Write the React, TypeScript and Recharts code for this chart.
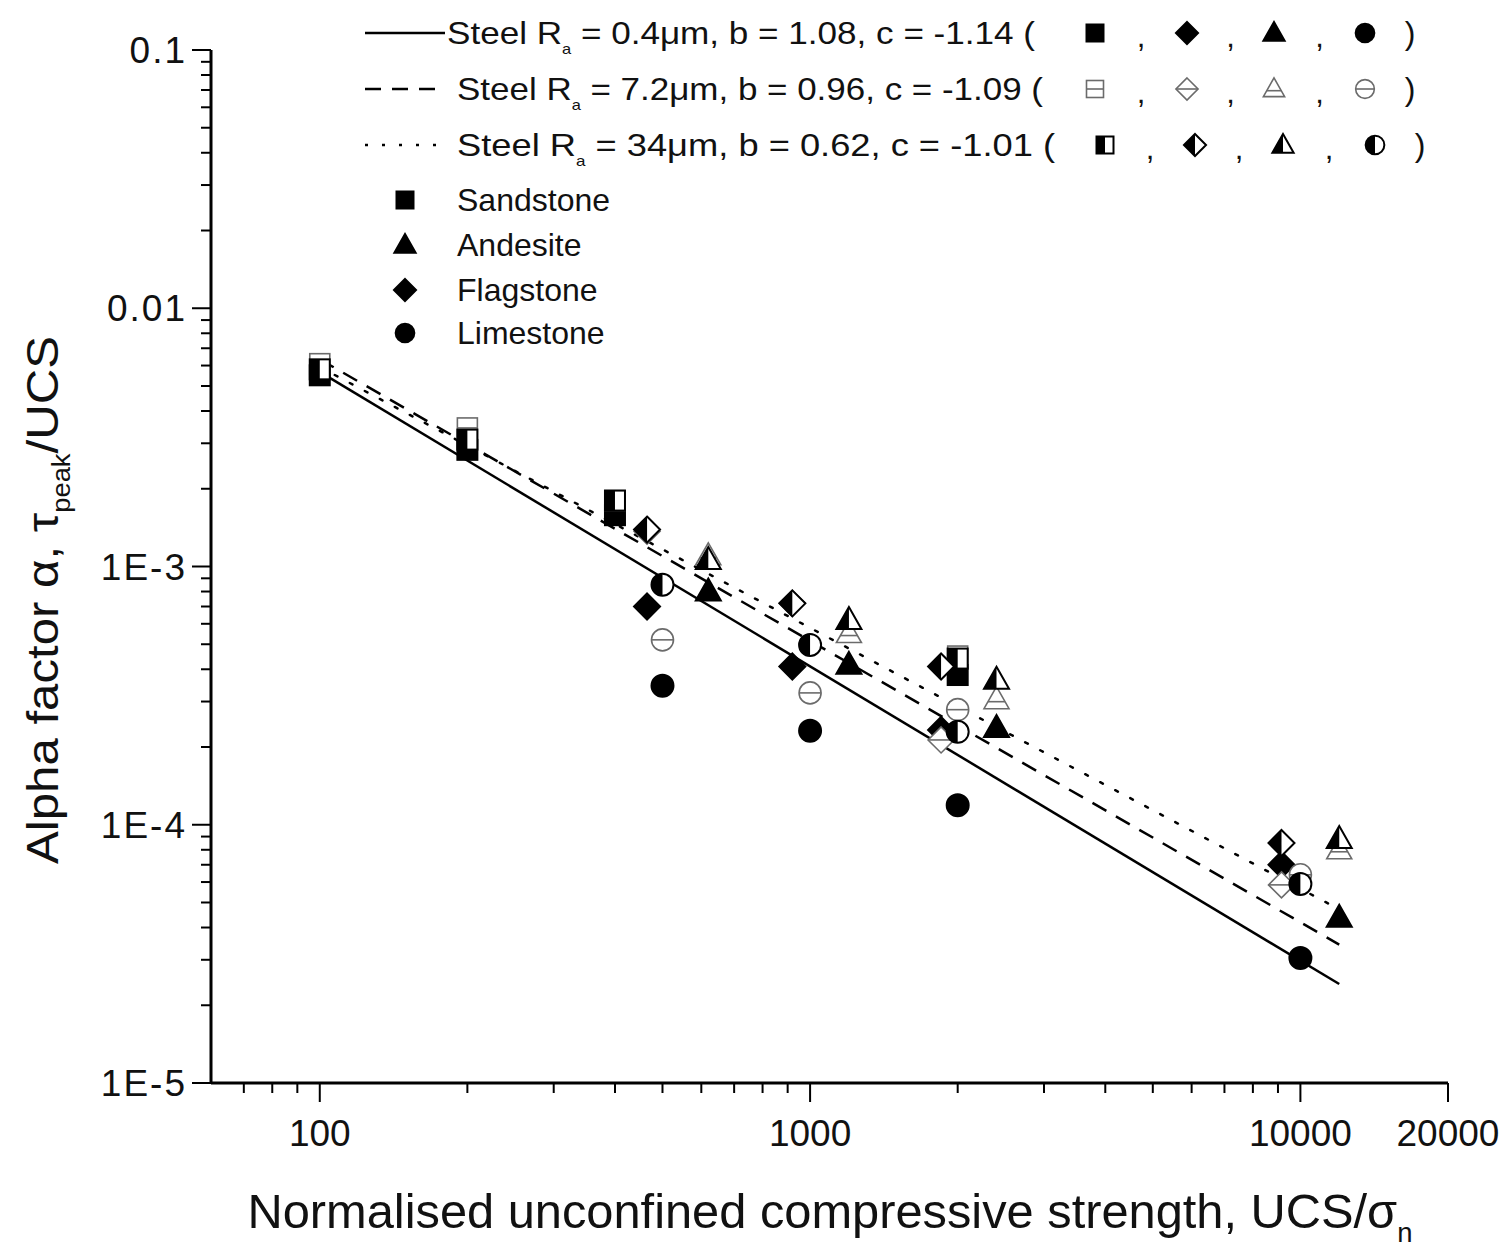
import { ScatterChart, Scatter, XAxis, YAxis } from 'recharts'

const W = 1512
const H = 1257
const FONT = '"Liberation Sans", Arial, Helvetica, sans-serif'

// axis ticks
const X_MAJOR = [100, 1000, 10000, 20000]
const X_MINOR = [70, 80, 90, 200, 300, 400, 500, 600, 700, 800, 900, 2000, 3000, 4000, 5000, 6000, 7000, 8000, 9000]
const Y_MAJOR = [1e-5, 1e-4, 1e-3, 0.01, 0.1]
const Y_MAJOR_LABELS = ['1E-5', '1E-4', '1E-3', '0.01', '0.1']
const Y_MINOR = [1e-5, 1e-4, 1e-3, 1e-2].flatMap((d) => [2, 3, 4, 5, 6, 7, 8, 9].map((m) => m * d))

// power-law fits alpha = b * x^c for the three steel roughnesses
const FIT_RA = ['0.4', '7.2', '34']
const FIT_B = [1.08, 0.96, 0.62]
const FIT_C = [-1.14, -1.09, -1.01]
const FIT_X = [100, 12000]

// measured points: x values per rock, then alpha for Ra = 0.4, 7.2, 34 um
const SANDSTONE_X = [100, 200, 400, 2000]
const SANDSTONE_04 = [0.0055, 0.00283, 0.00158, 0.00038]
const SANDSTONE_72 = [0.0061, 0.00344, 0.0018, 0.00045]
const SANDSTONE_34 = [0.0058, 0.0031, 0.0018, 0.00044]

const FLAGSTONE_X = [465, 920, 1850, 9150]
const FLAGSTONE_04 = [0.0007, 0.00041, 0.000233, 7.0e-5]
const FLAGSTONE_72 = [0.00137, 0.00072, 0.000213, 5.85e-5]
const FLAGSTONE_34 = [0.00139, 0.00072, 0.00041, 8.5e-5]

const ANDESITE_X = [620, 1200, 2400, 12000]
const ANDESITE_04 = [0.0008, 0.000416, 0.000237, 4.36e-5]
const ANDESITE_72 = [0.0011, 0.00055, 0.000305, 8.0e-5]
const ANDESITE_34 = [0.00106, 0.00062, 0.000364, 8.8e-5]

const LIMESTONE_X = [500, 1000, 2000, 10000]
const LIMESTONE_04 = [0.000345, 0.000231, 0.000119, 3.05e-5]
const LIMESTONE_72 = [0.00052, 0.000324, 0.000279, 6.4e-5]
const LIMESTONE_34 = [0.00085, 0.000497, 0.000229, 5.9e-5]

type Kind = 'square' | 'diamond' | 'triangle' | 'circle'
type Style = 'filled' | 'open' | 'half'

const LINE_DASH = ['', '16 11', '3 14']

const toPoints = (xs: number[], ys: number[]) => xs.map((x, i) => ({ x, y: ys[i] }))

const fitPoints = (i: number) => FIT_X.map((x) => ({ x, y: FIT_B[i] * Math.pow(x, FIT_C[i]) }))

function Marker({ kind, style, cx, cy, s = 1 }: { kind: Kind; style: Style; cx: number; cy: number; s?: number }) {
  const black = '#000'
  const gray = '#6b6b6b'
  const outline = style === 'open' ? gray : black
  const sw = style === 'open' ? 1.6 : 2
  const body = style === 'filled' ? black : '#fff'

  if (kind === 'square') {
    const h = 10 * s
    return (
      <g>
        <rect x={cx - h} y={cy - h} width={2 * h} height={2 * h} fill={body} stroke={outline} strokeWidth={sw} />
        {style === 'half' && <rect x={cx - h} y={cy - h} width={h} height={2 * h} fill={black} />}
        {style === 'open' && <line x1={cx - h} x2={cx + h} y1={cy} y2={cy} stroke={gray} strokeWidth={1.6} />}
      </g>
    )
  }
  if (kind === 'diamond') {
    const h = 13 * s
    const pts = `${cx},${cy - h} ${cx + h},${cy} ${cx},${cy + h} ${cx - h},${cy}`
    return (
      <g>
        <polygon points={pts} fill={body} stroke={outline} strokeWidth={sw} />
        {style === 'half' && <polygon points={`${cx},${cy - h} ${cx - h},${cy} ${cx},${cy + h}`} fill={black} />}
        {style === 'open' && <line x1={cx - h} x2={cx + h} y1={cy} y2={cy} stroke={gray} strokeWidth={1.6} />}
      </g>
    )
  }
  if (kind === 'triangle') {
    const hw = 12.5 * s
    const top = cy - 13 * s
    const bot = cy + 9 * s
    const pts = `${cx},${top} ${cx + hw},${bot} ${cx - hw},${bot}`
    const ly = cy + 2 * s
    const lx = hw * ((ly - top) / (bot - top))
    return (
      <g>
        <polygon points={pts} fill={body} stroke={outline} strokeWidth={sw} strokeLinejoin="miter" />
        {style === 'half' && <polygon points={`${cx},${top} ${cx - hw},${bot} ${cx},${bot}`} fill={black} />}
        {style === 'open' && <line x1={cx - lx} x2={cx + lx} y1={ly} y2={ly} stroke={gray} strokeWidth={1.6} />}
      </g>
    )
  }
  const r = 11 * s
  return (
    <g>
      <circle cx={cx} cy={cy} r={r} fill={body} stroke={outline} strokeWidth={sw} />
      {style === 'half' && <path d={`M${cx},${cy - r} A${r},${r} 0 0 0 ${cx},${cy + r} Z`} fill={black} />}
      {style === 'open' && <line x1={cx - r} x2={cx + r} y1={cy} y2={cy} stroke={gray} strokeWidth={1.6} />}
    </g>
  )
}

const markerShape = (kind: Kind, style: Style) => (props: any) =>
  props.cx == null ? <g /> : <Marker kind={kind} style={style} cx={props.cx} cy={props.cy} />

const XTick = (props: any) => {
  const { x, y, payload } = props
  const major = X_MAJOR.includes(payload.value)
  return (
    <g>
      <line x1={x} x2={x} y1={y} y2={y + (major ? 19 : 10)} stroke="#000" strokeWidth={2} />
      {major && (
        <text x={x} y={y + 63} textAnchor="middle" fontSize={37} fontFamily={FONT} fill="#111">
          {payload.value}
        </text>
      )}
    </g>
  )
}

const YTick = (props: any) => {
  const { x, y, payload } = props
  const idx = Y_MAJOR.findIndex((v) => Math.abs(v - payload.value) / v < 1e-6)
  const major = idx >= 0
  return (
    <g>
      <line x1={x - (major ? 19 : 10)} x2={x} y1={y} y2={y} stroke="#000" strokeWidth={2} />
      {major && (
        <text x={x - 24} y={y + 13} textAnchor="end" fontSize={37} letterSpacing={2} fontFamily={FONT} fill="#111">
          {Y_MAJOR_LABELS[idx]}
        </text>
      )}
    </g>
  )
}

const ROCKS: { kind: Kind; name: string; xs: number[]; ys: number[][] }[] = [
  { kind: 'square', name: 'Sandstone', xs: SANDSTONE_X, ys: [SANDSTONE_04, SANDSTONE_72, SANDSTONE_34] },
  { kind: 'diamond', name: 'Flagstone', xs: FLAGSTONE_X, ys: [FLAGSTONE_04, FLAGSTONE_72, FLAGSTONE_34] },
  { kind: 'triangle', name: 'Andesite', xs: ANDESITE_X, ys: [ANDESITE_04, ANDESITE_72, ANDESITE_34] },
  { kind: 'circle', name: 'Limestone', xs: LIMESTONE_X, ys: [LIMESTONE_04, LIMESTONE_72, LIMESTONE_34] },
]
const STYLES: Style[] = ['filled', 'open', 'half']

// header legend layout
const ROW_Y = [33, 89, 145]
const ROW_TEXT_X = [447, 457, 457]
const ROW_TEXT_W = [588, 586, 598]
const ROW_TAIL = [
  ' = 0.4\u03bcm, b = 1.08, c = -1.14  (',
  ' = 7.2\u03bcm, b = 0.96, c = -1.09 (',
  ' = 34\u03bcm,  b = 0.62, c = -1.01  (',
]
const ROW_MARK_X = [
  [1095, 1187, 1274, 1365],
  [1095, 1187, 1274, 1365],
  [1105, 1195, 1283, 1375],
]
const LEGEND_KINDS: Kind[] = ['square', 'diamond', 'triangle', 'circle']
const ROCK_LEGEND = ['Sandstone', 'Andesite', 'Flagstone', 'Limestone']
const ROCK_LEGEND_KIND: Kind[] = ['square', 'triangle', 'diamond', 'circle']
const ROCK_LEGEND_Y = [200, 245, 290, 333]

function Overlay() {
  return (
    <svg width={W} height={H} style={{ position: 'absolute', left: 0, top: 0, pointerEvents: 'none' }}>
      {ROW_Y.map((y, i) => {
        const mx = ROW_MARK_X[i]
        return (
          <g key={i} fontFamily={FONT} fill="#111">
            <line x1={365} x2={i === 0 ? 445 : 440} y1={y} y2={y} stroke="#000" strokeWidth={2.5} strokeDasharray={LINE_DASH[i] || undefined} />
            <text x={ROW_TEXT_X[i]} y={y + 11} fontSize={32} textLength={ROW_TEXT_W[i]} lengthAdjust="spacingAndGlyphs">
              Steel R
              <tspan dy={10} fontSize={15}>a</tspan>
              <tspan dy={-10}>{ROW_TAIL[i]}</tspan>
            </text>
            {LEGEND_KINDS.map((k, j) => (
              <Marker key={k} kind={k} style={STYLES[i]} cx={mx[j]} cy={y} s={0.85} />
            ))}
            {[0, 1, 2].map((j) => (
              <text key={j} x={(mx[j] + mx[j + 1]) / 2} y={y + 14} fontSize={31} textAnchor="middle">,</text>
            ))}
            <text x={mx[3] + 45} y={y + 11} fontSize={32} textAnchor="middle">)</text>
          </g>
        )
      })}
      {ROCK_LEGEND.map((name, i) => (
        <g key={name}>
          <Marker kind={ROCK_LEGEND_KIND[i]} style="filled" cx={405} cy={ROCK_LEGEND_Y[i]} s={0.85} />
          <text x={457} y={ROCK_LEGEND_Y[i] + 11} fontSize={32} fontFamily={FONT} fill="#111">{name}</text>
        </g>
      ))}
      <text
        transform="translate(58, 600) rotate(-90)"
        textAnchor="middle"
        fontSize={45}
        fontFamily={FONT}
        fill="#111"
        textLength={528}
        lengthAdjust="spacingAndGlyphs"
      >
        Alpha factor {'\u03b1'}, {'\u03c4'}
        <tspan dy={12} fontSize={25}>peak</tspan>
        <tspan dy={-12}>/UCS</tspan>
      </text>
      <text
        x={830}
        y={1228}
        textAnchor="middle"
        fontSize={48}
        fontFamily={FONT}
        fill="#111"
        textLength={1165}
        lengthAdjust="spacingAndGlyphs"
      >
        Normalised unconfined compressive strength, UCS/{'\u03c3'}
        <tspan dy={14} fontSize={27}>n</tspan>
      </text>
    </svg>
  )
}

export default function App() {
  return (
    <div style={{ position: 'absolute', left: 0, top: 0, width: W, height: H, background: '#fff' }}>
      <ScatterChart width={W} height={H} margin={{ top: 50, right: 64, left: 0, bottom: 0 }}>
        <XAxis
          type="number"
          dataKey="x"
          scale="log"
          domain={[60, 20000]}
          ticks={[...X_MINOR, ...X_MAJOR]}
          interval={0}
          allowDataOverflow
          height={174}
          tickSize={0}
          tickMargin={0}
          tick={<XTick />}
          axisLine={{ stroke: '#000', strokeWidth: 3 }}
        />
        <YAxis
          type="number"
          dataKey="y"
          scale="log"
          domain={[1e-5, 0.1]}
          ticks={[...Y_MINOR, ...Y_MAJOR]}
          interval={0}
          allowDataOverflow
          width={211}
          tickSize={0}
          tickMargin={0}
          tick={<YTick />}
          axisLine={{ stroke: '#000', strokeWidth: 3 }}
        />
        {FIT_RA.map((ra, i) => (
          <Scatter
            key={`fit-${ra}`}
            name={`Steel Ra = ${ra}`}
            data={fitPoints(i)}
            line={{ stroke: '#000', strokeWidth: 2.5, strokeDasharray: LINE_DASH[i] || undefined, strokeLinecap: i === 2 ? 'round' : 'butt' }}
            shape={() => <g />}
            isAnimationActive={false}
          />
        ))}
        {ROCKS.flatMap((rock) =>
          STYLES.map((st, i) => (
            <Scatter
              key={`${rock.name}-${st}`}
              name={`${rock.name} ${FIT_RA[i]}`}
              data={toPoints(rock.xs, rock.ys[i])}
              shape={markerShape(rock.kind, st)}
              isAnimationActive={false}
            />
          )),
        )}
      </ScatterChart>
      <Overlay />
    </div>
  )
}
